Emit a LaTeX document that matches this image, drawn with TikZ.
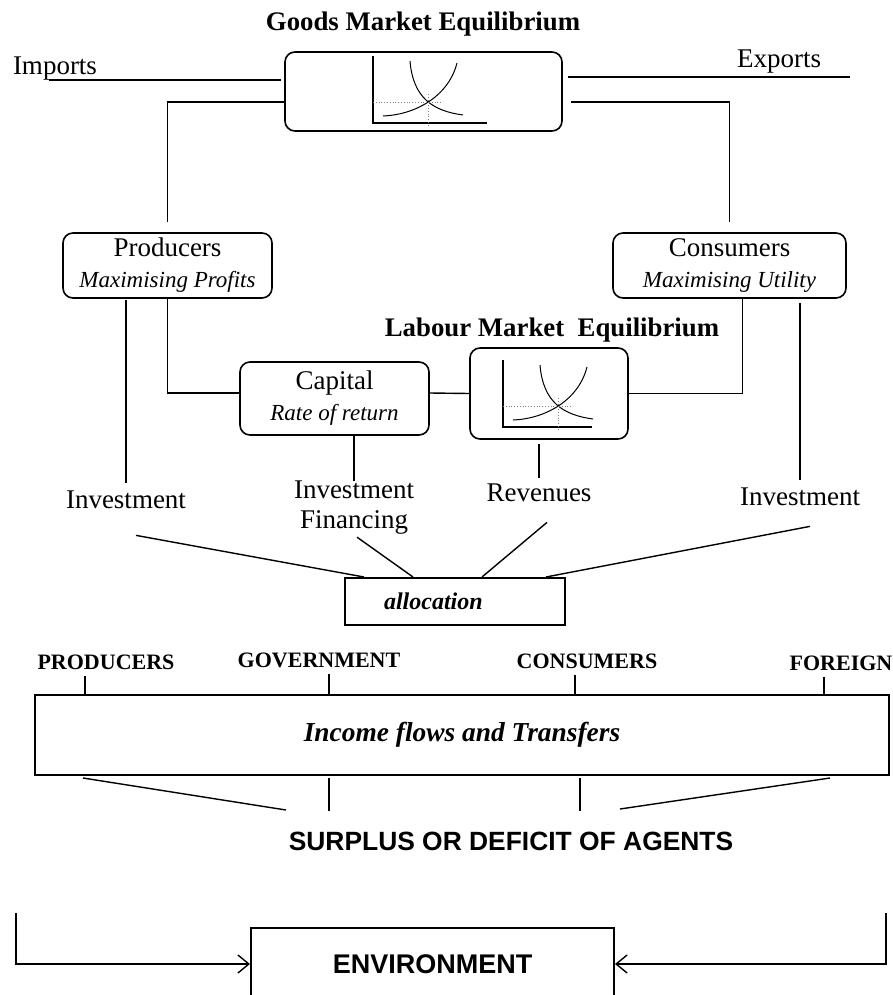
\documentclass[tikz,border=0pt]{standalone}
\usepackage{fontspec}
\setmainfont{Liberation Serif}
\setsansfont{Liberation Sans}
\usetikzlibrary{calc,arrows.meta}

\begin{document}
\begin{tikzpicture}[x=0.5pt,y=-0.5pt,>={Straight Barb[length=5.5pt,width=9pt]}]
%\draw [help lines] (0,0) grid (893,995);
\tikzset{
	boxR/.style={
		rectangle,
		rounded corners=5pt,
		inner sep=0pt,
		align=center,
		draw=black,
		line width=0.8pt,
		font=\fontsize{13.5pt}{15.5pt}\selectfont
	},
	boxS/.style={
		rectangle,
		inner sep=0pt,
		align=center,
		draw=black,
		line width=1pt
	},
	lbl/.style={
		inner sep=2pt,
		align=center,
		font=\fontsize{13.5pt}{15pt}\selectfont
	},
	ttl/.style={
		inner sep=2pt,
		font=\fontsize{13.4pt}{16pt}\selectfont\bfseries
	},
	agent/.style={
		inner sep=2pt,
		font=\fontsize{11pt}{13pt}\selectfont\bfseries
	},
	link/.style={
		line width=0.7pt
	},
	pics/eqplot/.style={
		code={
			\draw [line width=0.7pt] (0,-67) -- (0,0) -- (#1,0);
			\draw [line width=0.5pt] (37,-62) .. controls (40,-25) and (60,-12) .. (90,-8);
			\draw [line width=0.5pt] (10,-7) .. controls (40,-8) and (75,-25) .. (84,-60);
			\draw [densely dotted, gray, line width=0.4pt] (0,-21) -- (70,-21);
			\draw [densely dotted, gray, line width=0.4pt] (55,-29) -- (55,4);
		}
	}
}
\useasboundingbox (0,0) rectangle (893,995);
\clip (0,0) rectangle (893,995);

% goods market
\node (gtitle) [ttl] at (423,24) {Goods Market Equilibrium};
\node (goods) [boxR, minimum width=138.5pt, minimum height=39.5pt] at (423.5,91.5) {};
\pic (gplot) at (373,123) {eqplot=114};
\node (imp) [lbl] at (55,69) {Imports};
\node (exp) [lbl] at (779,62) {Exports};
\coordinate (impL) at (49,80);
\coordinate (expR) at (850,77);

% agents
\node (prod) [boxR, minimum width=104.5pt, minimum height=32.5pt] at (167.5,265.5)
	{Producers\\{\fontsize{11.5pt}{14pt}\selectfont\itshape Maximising Profits}};
\node (cons) [boxR, minimum width=116.5pt, minimum height=32.5pt] at (729.5,265.5)
	{Consumers\\{\fontsize{11.5pt}{14pt}\selectfont\itshape Maximising Utility}};

% labour market
\node (cap) [boxR, minimum width=94.5pt, minimum height=36.5pt] at (334.5,398.5)
	{Capital\\{\fontsize{11.5pt}{14pt}\selectfont\itshape Rate of return}};
\node (ltitle) [ttl] at (552,330) {Labour Market\ \ Equilibrium};
\node (lab) [boxR, minimum width=79pt, minimum height=45.5pt] at (549,393.5) {};
\pic (lplot) at (503,427) {eqplot=89};

\node (invL) [lbl] at (126,500) {Investment};
\node (invF) [lbl] at (354,508) {Investment\\Financing};
\node (rev) [lbl] at (539,493) {Revenues};
\node (invR) [lbl] at (800,497) {Investment};

\node (alloc) [boxS, text width=71pt, inner xsep=19.5pt, minimum height=23.5pt, align=left,
	font=\fontsize{12pt}{14pt}\selectfont\bfseries\itshape] at (455,601.5) {allocation};

% income flows
\node (pP) [agent] at (106,662) {PRODUCERS};
\node (pG) [agent] at (319,660) {GOVERNMENT};
\node (pC) [agent] at (587,661) {CONSUMERS};
\node (pF) [agent] at (841,663) {FOREIGN};
\node (income) [boxS, minimum width=427pt, minimum height=40pt,
	font=\fontsize{13.7pt}{16pt}\selectfont\bfseries\itshape] at (462,735) {Income flows and Transfers};
\node (surplus) [inner sep=2pt, font=\fontsize{13.2pt}{16pt}\selectfont\sffamily\bfseries] at (511,841)
	{SURPLUS OR DEFICIT OF AGENTS};

\node (env) [boxS, minimum width=181.5pt, minimum height=36pt,
	font=\fontsize{13.5pt}{16pt}\selectfont\sffamily\bfseries] at (432.5,964) {ENVIRONMENT};
\coordinate (envL) at (16,913);
\coordinate (envR) at (886,913);

% connectors
\draw [link, shorten >=1.5pt] (impL) -- (impL -| goods.west);
\draw [link, shorten <=2.5pt] (expR -| goods.east) -- (expR);
\draw [link, shorten >=5pt] ($(goods.west)+(0,10.5)$) -| (prod.north);
\draw [link, shorten <=4pt, shorten >=5pt] ($(goods.east)+(0,10.5)$) -| (cons.north);

\draw [link, shorten <=0.5pt, shorten >=2pt] (prod.south -| invL.north) -- (invL.north);
\draw [link] (prod.south) |- ($(cap.west)+(0,-5.5)$);
\draw [link] ($(cap.east)+(0,-5.5)$) -- (lab.west);
\draw [link] (lab.east) -| ($(cons.south)+(13,0)$);
\draw [link, shorten <=2pt, shorten >=2pt] (cons.south -| invR.north) -- (invR.north);
\draw [link, shorten >=-2pt] (cap.south -| invF.north) -- (invF.north);
\draw [link, shorten <=2pt, shorten >=1pt] (lab.south -| rev.north) -- (rev.north);

\draw [link] ($(invL.south)+(10,22)$) -- ($(alloc.north)+(-91,0)$);
\draw [link] ($(invF.south)+(3,-2)$) -- ($(alloc.north)+(-42,0)$);
\draw [link] ($(rev.south)+(8,16)$) -- ($(alloc.north)+(27,0)$);
\draw [link] ($(invR.south)+(10,16)$) -- ($(alloc.north)+(91,0)$);

\foreach \lbl/\dx in {pP/-10.5pt, pG/5pt, pC/-6pt, pF/-8.5pt}
	\draw [link] ([xshift=\dx, yshift=-1pt]\lbl.south) -- ([xshift=\dx]\lbl.south |- income.north);
\foreach \a/\b/\c in {-379/-176/34, -133/-133/35, 118/118/35, 368/158/33}
	\draw [link] ($(income.south)+(\a,2)$) -- ($(income.south)+(\b,\c)$);

\draw [link, ->] (envL) |- (env.west);
\draw [link, ->] (envR) |- (env.east);
\end{tikzpicture}
\end{document}
